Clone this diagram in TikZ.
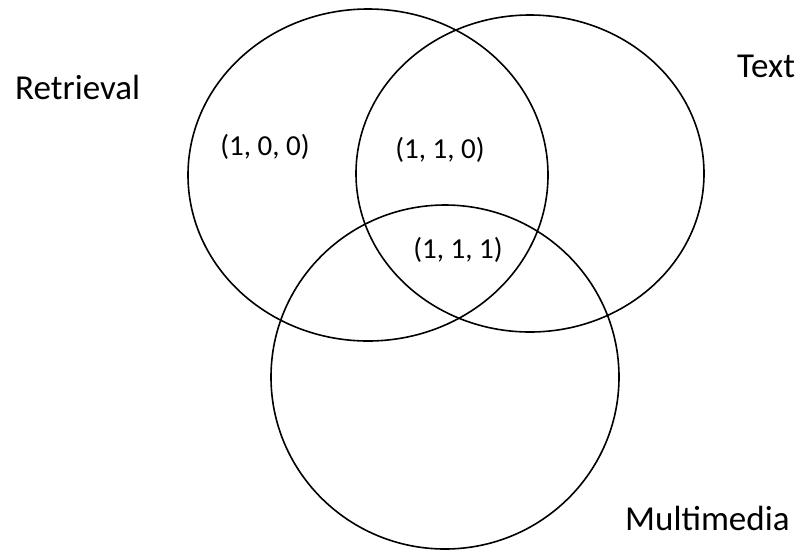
\documentclass[tikz,border=0pt]{standalone}
\usepackage{fontspec}
\setmainfont{Carlito}
\begin{document}
\begin{tikzpicture}[x=1pt,y=-1pt,
  setring/.style={draw=black,line width=1.6pt},
  setname/.style={font=\fontsize{35}{40}\selectfont,inner sep=0pt,anchor=base west},
  regionlabel/.style={font=\fontsize{29}{34}\selectfont,inner sep=0pt}]
  \useasboundingbox (0,0) rectangle (801,550);
  % the three sets
  \draw[setring] (368,175) ellipse [x radius=180,y radius=166];
  \draw[setring] (530,173.5) ellipse [x radius=174,y radius=158.5];
  \draw[setring] (445,377) ellipse [x radius=174,y radius=172];
  % set names
  \node[setname] (retrieval) at (15,99) {Retrieval};
  \node[setname] (text) at (737,77) {Text};
  \node[setname] (multimedia) at (625,530) {Multimedia};
  % region labels
  \node[regionlabel] (r100) at (265,147) {(1, 0, 0)};
  \node[regionlabel] (r110) at (440,150) {(1, 1, 0)};
  \node[regionlabel] (r111) at (458,250) {(1, 1, 1)};
\end{tikzpicture}
\end{document}
